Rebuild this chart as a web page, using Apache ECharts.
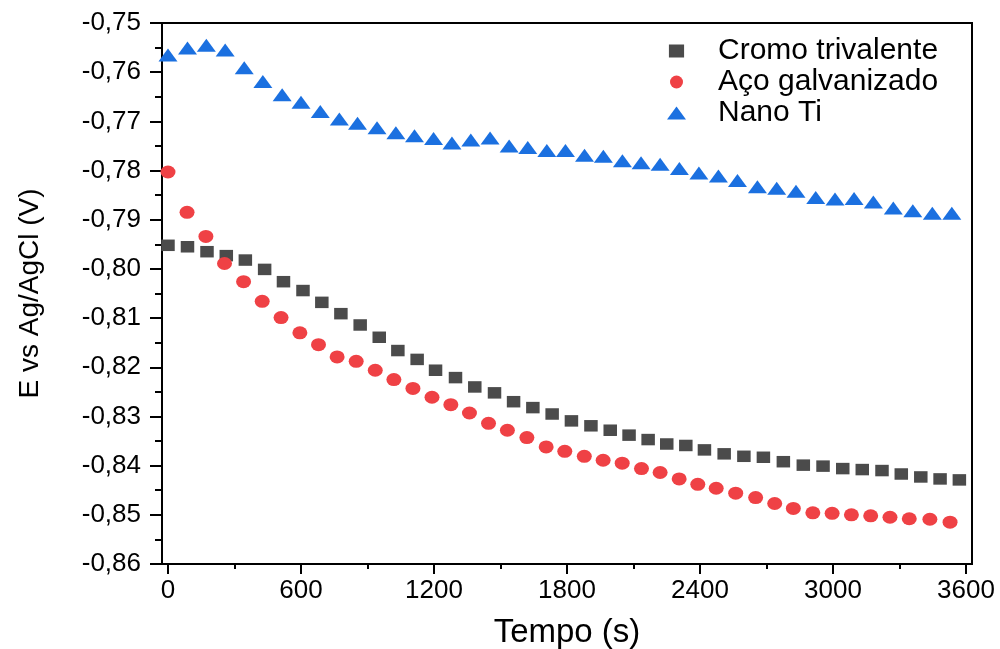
<!DOCTYPE html>
<html>
<head>
<meta charset="utf-8">
<script src="https://cdn.jsdelivr.net/npm/echarts@6/dist/echarts.min.js"></script>
<style>html,body{margin:0;padding:0;background:#fff}#chart{width:1000px;height:649px}</style>
</head>
<body>
<div id="chart"></div>
<script>
var seriesNames = ['Cromo trivalente', 'Aço galvanizado', 'Nano Ti'];

var timeCromo = [0, 88, 176, 263, 349, 436, 521, 609, 694, 780, 867, 953, 1037, 1124, 1207, 1297, 1384, 1473, 1559, 1646, 1733, 1820, 1908, 1995, 2080, 2166, 2250, 2336, 2420, 2509, 2598, 2686, 2776, 2866, 2955, 3044, 3132, 3221, 3308, 3396, 3483, 3570];
var eCromo = [-0.7952, -0.7955, -0.7965, -0.7973, -0.7982, -0.8001, -0.8026, -0.8044, -0.8068, -0.8091, -0.8114, -0.8139, -0.8166, -0.8184, -0.8206, -0.8221, -0.8240, -0.8252, -0.8270, -0.8282, -0.8295, -0.8309, -0.8319, -0.8328, -0.8338, -0.8347, -0.8356, -0.8359, -0.8368, -0.8376, -0.8381, -0.8383, -0.8392, -0.8399, -0.8401, -0.8406, -0.8408, -0.8410, -0.8417, -0.8423, -0.8427, -0.8429];

var timeAco = [0, 86, 171, 255, 341, 425, 510, 595, 679, 763, 849, 935, 1019, 1105, 1191, 1276, 1360, 1446, 1531, 1619, 1706, 1790, 1878, 1963, 2049, 2136, 2220, 2306, 2390, 2473, 2561, 2651, 2737, 2821, 2909, 2996, 3083, 3170, 3257, 3344, 3437, 3528];
var eAco = [-0.7803, -0.7885, -0.7934, -0.7989, -0.8026, -0.8066, -0.8099, -0.8130, -0.8154, -0.8179, -0.8188, -0.8206, -0.8225, -0.8243, -0.8261, -0.8276, -0.8293, -0.8314, -0.8328, -0.8343, -0.8362, -0.8371, -0.8381, -0.8389, -0.8395, -0.8406, -0.8414, -0.8427, -0.8438, -0.8446, -0.8456, -0.8465, -0.8477, -0.8487, -0.8496, -0.8497, -0.8500, -0.8502, -0.8505, -0.8508, -0.8509, -0.8515];

var timeNano = [0, 88, 173, 258, 344, 428, 515, 600, 687, 773, 855, 943, 1028, 1112, 1198, 1281, 1366, 1453, 1539, 1623, 1709, 1793, 1879, 1964, 2050, 2134, 2220, 2307, 2395, 2483, 2569, 2659, 2746, 2833, 2922, 3009, 3095, 3182, 3272, 3360, 3448, 3536];
var eNano = [-0.7565, -0.7551, -0.7545, -0.7555, -0.7591, -0.7619, -0.7646, -0.7661, -0.7680, -0.7695, -0.7704, -0.7713, -0.7723, -0.7729, -0.7735, -0.7744, -0.7738, -0.7734, -0.7750, -0.7753, -0.7759, -0.7759, -0.7769, -0.7771, -0.7780, -0.7784, -0.7787, -0.7796, -0.7805, -0.7811, -0.7820, -0.7833, -0.7836, -0.7842, -0.7855, -0.7858, -0.7857, -0.7864, -0.7876, -0.7882, -0.7887, -0.7887];

var xTickLabels = [0, 600, 1200, 1800, 2400, 3000, 3600];
var xMinorTicks = [300, 900, 1500, 2100, 2700, 3300];

function pairs(xs, ys) { return xs.map(function (x, i) { return [x, ys[i]]; }); }

var FONT = "'Liberation Sans', Arial, sans-serif";
var colors = ['#4b4b4b', '#ef4145', '#1b70e0'];
var ellipse = 'path://M-1,0A1,1,0,1,1,1,0A1,1,0,1,1,-1,0Z';
var rectPath = 'path://M0,0H14V12H0Z';

var chart = echarts.init(document.getElementById('chart'), null, {renderer: 'canvas'});
chart.setOption({
  animation: false,
  backgroundColor: '#fff',
  textStyle: {fontFamily: FONT},
  grid: {left: 162, top: 23, right: 28, bottom: 85, show: true, borderColor: '#000', borderWidth: 2,
    backgroundColor: 'transparent', containLabel: false, outerBoundsMode: 'none'},
  legend: {
    orient: 'vertical',
    left: 662, top: 31,
    itemWidth: 19, itemHeight: 13, itemGap: 1,
    textStyle: {fontSize: 30, color: '#000', fontFamily: FONT, padding: [0, 0, 0, 27]},
    data: [
      {name: seriesNames[0], icon: rectPath},
      {name: seriesNames[1], icon: ellipse},
      {name: seriesNames[2], icon: 'triangle'}
    ]
  },
  xAxis: [{
    type: 'value', position: 'bottom', min: -27, max: 3627,
    name: 'Tempo (s)', nameLocation: 'middle', nameGap: 52,
    nameTextStyle: {fontSize: 33, color: '#000', fontFamily: FONT},
    axisLine: {show: true, onZero: false, lineStyle: {color: '#000', width: 2}},
    axisTick: {show: true, length: 10, lineStyle: {color: '#000', width: 2}, customValues: xTickLabels},
    axisLabel: {fontSize: 26, color: '#000', margin: 14, fontFamily: FONT, customValues: xTickLabels,
      formatter: function (v) { return String(v); }},
    splitLine: {show: false}
  }, {
    type: 'value', position: 'bottom', min: -27, max: 3627, offset: 0,
    axisLine: {show: false, onZero: false},
    axisTick: {show: true, length: 5, lineStyle: {color: '#000', width: 2}, customValues: xMinorTicks},
    axisLabel: {show: false},
    splitLine: {show: false}
  }],
  yAxis: {
    type: 'value', min: -0.86, max: -0.75, interval: 0.01,
    name: 'E vs Ag/AgCl (V)', nameLocation: 'middle', nameGap: 118,
    nameTextStyle: {fontSize: 28, color: '#000', fontFamily: FONT},
    axisLine: {show: true, onZero: false, lineStyle: {color: '#000', width: 2}},
    axisTick: {show: true, length: 12, lineStyle: {color: '#000', width: 2}},
    minorTick: {show: true, splitNumber: 2, length: 7, lineStyle: {color: '#000', width: 2}},
    axisLabel: {fontSize: 26, color: '#000', margin: 21, fontFamily: FONT,
      formatter: function (v) { return v.toFixed(2).replace('.', ','); }},
    splitLine: {show: false}
  },
  series: [
    {name: seriesNames[0], type: 'scatter', xAxisIndex: 0, data: pairs(timeCromo, eCromo),
     symbol: 'rect', symbolSize: [13.5, 11.5], itemStyle: {color: colors[0], opacity: 1}, z: 2},
    {name: seriesNames[1], type: 'scatter', xAxisIndex: 0, data: pairs(timeAco, eAco),
     symbol: ellipse, symbolSize: [15, 13], itemStyle: {color: colors[1], opacity: 1}, z: 3},
    {name: seriesNames[2], type: 'scatter', xAxisIndex: 0, data: pairs(timeNano, eNano),
     symbol: 'triangle', symbolSize: [19, 13], itemStyle: {color: colors[2], opacity: 1}, z: 4}
  ]
});
</script>
</body>
</html>
